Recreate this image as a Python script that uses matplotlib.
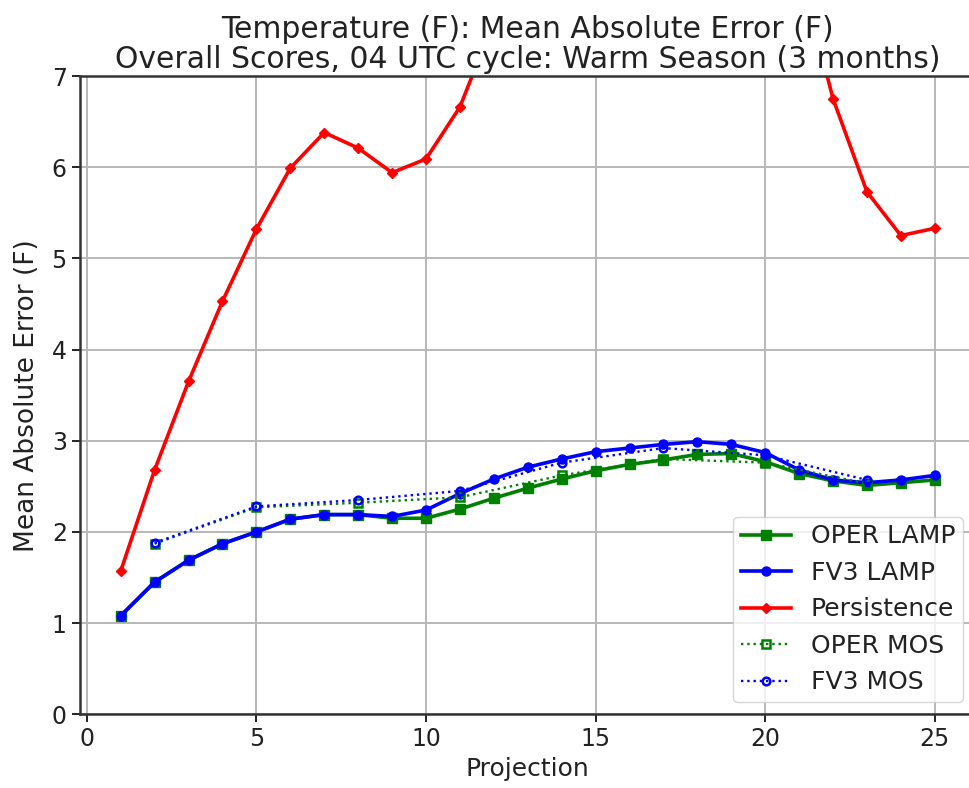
import matplotlib
matplotlib.use("Agg")
import matplotlib.pyplot as plt

projection = list(range(1, 26))

oper_lamp = [1.08, 1.45, 1.69, 1.87, 2.00, 2.14, 2.19, 2.19, 2.15, 2.15,
             2.25, 2.37, 2.48, 2.58, 2.67, 2.74, 2.79, 2.85, 2.86, 2.77,
             2.64, 2.56, 2.51, 2.54, 2.57]
fv3_lamp = [1.08, 1.45, 1.69, 1.87, 2.00, 2.14, 2.19, 2.19, 2.17, 2.24,
            2.42, 2.58, 2.71, 2.80, 2.88, 2.92, 2.96, 2.99, 2.96, 2.87,
            2.68, 2.57, 2.54, 2.57, 2.62]
persistence = [1.57, 2.68, 3.65, 4.53, 5.32, 5.99, 6.38, 6.21, 5.94, 6.09,
               6.66, 7.60, 8.20, 8.60, 8.90, 9.00, 9.00, 8.90, 8.70, 8.50,
               8.20, 6.75, 5.73, 5.25, 5.33]

mos_projection = [2, 5, 8, 11, 14, 17, 20, 23]
oper_mos = [1.87, 2.27, 2.32, 2.38, 2.62, 2.80, 2.76, 2.53]
fv3_mos = [1.88, 2.28, 2.35, 2.45, 2.76, 2.92, 2.84, 2.57]

W, H = 969, 788
fig = plt.figure(figsize=(W / 100, H / 100), dpi=100)
ax = fig.add_axes([80 / W, (H - 714.3) / H, (975.5 - 80) / W, (714.3 - 76) / H])

ax.plot(projection, oper_lamp, color="green", marker="s", ms=6.5, lw=2.6,
        label="OPER LAMP")
ax.plot(projection, fv3_lamp, color="blue", marker="o", ms=6.5, lw=2.6,
        label="FV3 LAMP")
ax.plot(projection, persistence, color="red", marker="D", ms=5.5, lw=2.6,
        label="Persistence")
ax.plot(mos_projection, oper_mos, color="green", marker="s", ms=5.5, lw=1.7,
        ls=":", mfc="none", mew=1.8, label="OPER MOS")
ax.plot(mos_projection, fv3_mos, color="blue", marker="o", ms=5.5, lw=1.7,
        ls=":", mfc="none", mew=1.8, label="FV3 MOS")

ax.set_xlim(-0.2, 26.2)
ax.set_ylim(0, 7)
ax.set_xticks([0, 5, 10, 15, 20, 25])
ax.set_yticks(range(0, 8))
ax.grid(True, color="#b8b8b8", lw=1.4)
ax.tick_params(labelsize=17, length=6, width=1.4, colors="#222222")
for s in ax.spines.values():
    s.set_linewidth(1.8)
    s.set_color("#333333")
ax.set_xlabel("Projection", fontsize=18, color="#222222", labelpad=4)
ax.set_ylabel("Mean Absolute Error (F)", fontsize=19, color="#222222",
              labelpad=8)
ax.set_title("Temperature (F): Mean Absolute Error (F)\n"
             "Overall Scores, 04 UTC cycle: Warm Season (3 months)",
             fontsize=21.5, color="#222222", pad=6, linespacing=1.05)
leg = ax.legend(loc="lower right", fontsize=18, borderpad=0.3)
for t in leg.get_texts():
    t.set_color("#222222")

fig.savefig("out.png", dpi=100)
